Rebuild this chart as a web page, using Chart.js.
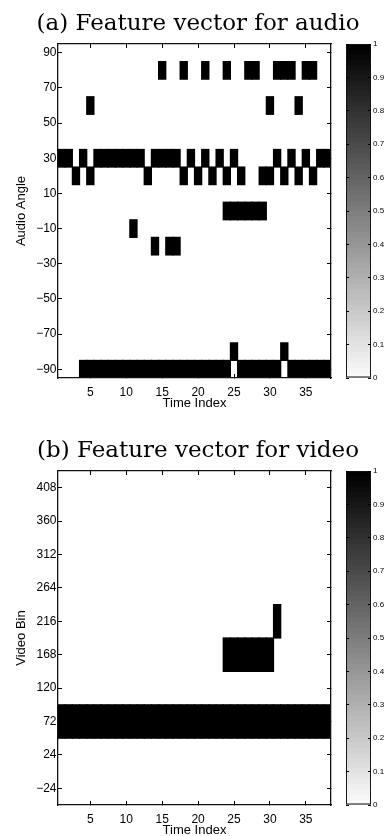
<!DOCTYPE html>
<html>
<head>
<meta charset="utf-8">
<script src="https://cdn.jsdelivr.net/npm/chart.js@4.4.0/dist/chart.umd.min.js"></script>
<style>
  html, body { margin: 0; padding: 0; background: #fff; overflow: hidden; }
  body { width: 390px; height: 836px; position: relative; }
  canvas { position: absolute; }
</style>
</head>
<body>
<canvas id="audioChart" width="390" height="420" style="left:0;top:0"></canvas>
<canvas id="audioBar" width="54" height="420" style="left:336px;top:0"></canvas>
<canvas id="videoChart" width="390" height="420" style="left:0;top:427px"></canvas>
<canvas id="videoBar" width="54" height="420" style="left:336px;top:427px"></canvas>
<script>
// ---- tick labels ----
const timeTicks = [5, 10, 15, 20, 25, 30, 35];
const audioTicks = [-90, -70, -50, -30, -10, 10, 30, 50, 70, 90];
const videoTicks = [-24, 24, 72, 120, 168, 216, 264, 312, 360, 408];
const levelTicks = [0, 0.1, 0.2, 0.3, 0.4, 0.5, 0.6, 0.7, 0.8, 0.9, 1];

// ---- audio feature: angle bins (10 deg) and the time indices that are 1 ----
const audioAngles = [80, 60, 30, 20, 0, -10, -20, -80, -90];
const audio80 = [15, 18, 21, 24, 27, 28, 31, 32, 33, 35, 36];
const audio60 = [5, 30, 34];
const audio30 = [1, 2, 4, 6, 7, 8, 9, 10, 11, 12, 14, 15, 16, 17, 19, 21, 23, 25, 31, 33, 35, 37, 38];
const audio20 = [3, 5, 13, 18, 20, 22, 24, 26, 29, 30, 32, 34, 36];
const audio0 = [24, 25, 26, 27, 28, 29];
const audioM10 = [11];
const audioM20 = [14, 16, 17];
const audioM80 = [25, 32];
const audioM90 = [4, 5, 6, 7, 8, 9, 10, 11, 12, 13, 14, 15, 16, 17, 18, 19, 20, 21, 22, 23, 24,
                  26, 27, 28, 29, 30, 31, 33, 34, 35, 36, 37, 38];
const audioBin = 10;

// ---- video feature: bins of 48 ----
const videoBins = [216, 168, 72];
const video216 = [31];
const video168 = [24, 25, 26, 27, 28, 29, 30];
const video72 = [1, 2, 3, 4, 5, 6, 7, 8, 9, 10, 11, 12, 13, 14, 15, 16, 17, 18, 19,
                 20, 21, 22, 23, 24, 25, 26, 27, 28, 29, 30, 31, 32, 33, 34, 35, 36, 37, 38];
const videoBin = 48;

Chart.defaults.font.family = "'Liberation Sans', Arial, sans-serif";
Chart.defaults.color = '#000';

const minus = v => (v < 0 ? '\u2212' + Math.abs(v) : String(v));
const fixTicks = vals => axis => { axis.ticks = vals.map(v => ({ value: v })); };

// matlab-style box: inward tick marks on every side, drawn over the image
const edge = { display: true, color: '#111', width: 1.3, z: 1 };
const marks = len => ({ drawOnChartArea: false, drawTicks: true, tickLength: len, color: '#000', lineWidth: 1, offset: false, z: 1 });

function heatmap(id, title, rows, cells, bin, yMin, yMax, yTicks, yTitle) {
  const datasets = rows.map((r, i) => ({
    data: cells[i].map(t => ({ x: t, y: [r - bin / 2, r + bin / 2] })),
    backgroundColor: '#000',
    borderWidth: 0,
    inflateAmount: 0.6,   // no hairline seams between neighbouring cells
    barPercentage: 1,
    categoryPercentage: 1,
    grouped: false
  }));

  new Chart(document.getElementById(id), {
    type: 'bar',
    data: { datasets },
    options: {
      responsive: false,
      animation: false,
      // side padding only centres the title over the figure
      layout: { padding: { left: 36, right: 30, top: 0, bottom: 0 } },
      plugins: {
        legend: { display: false },
        tooltip: { enabled: false },
        title: {
          display: true,
          text: title,
          color: '#000',
          font: { family: "'DejaVu Serif', serif", size: 23, weight: 'normal', lineHeight: 1.2 },
          padding: { top: 10, bottom: 6.4 }
        }
      },
      scales: {
        x: {
          type: 'linear', position: 'bottom', min: 0.5, max: 38.5, offset: false,
          grid: marks(-4), border: edge,
          afterBuildTicks: fixTicks(timeTicks),
          ticks: { padding: 11.3, autoSkip: false, maxRotation: 0, font: { size: 12 } },
          title: { display: true, text: 'Time Index', font: { size: 13 }, padding: { top: 0, bottom: 9 } },
          afterFit: s => { s.height = 42; }
        },
        xTop: {
          type: 'linear', position: 'top', min: 0.5, max: 38.5, offset: false,
          grid: marks(-4), border: edge,
          afterBuildTicks: fixTicks(timeTicks),
          ticks: { display: false },
          afterFit: s => { s.height = 0; }
        },
        y: {
          type: 'linear', position: 'left', min: yMin, max: yMax,
          grid: marks(-4), border: edge,
          afterBuildTicks: fixTicks(yTicks),
          ticks: { padding: 5.5, autoSkip: false, font: { size: 12 }, callback: v => minus(v) },
          title: { display: true, text: yTitle, font: { size: 13 }, padding: { top: -22.8, bottom: 0 } },
          afterFit: s => { s.width = 22; }
        },
        yRight: {
          type: 'linear', position: 'right', min: yMin, max: yMax,
          grid: marks(-4), border: edge,
          afterBuildTicks: fixTicks(yTicks),
          ticks: { display: false },
          afterFit: s => { s.width = 29; }
        }
      }
    }
  });
}

// reversed gray colormap, 64 levels like the matlab colorbar
function grayRamp(context) {
  const chart = context.chart;
  const area = chart.chartArea;
  if (!area) return '#888';
  const g = chart.ctx.createLinearGradient(0, area.bottom, 0, area.top);
  const levels = 64;
  for (let i = 0; i < levels; i++) {
    const v = Math.round(250 * (1 - i / (levels - 1)));
    const c = 'rgb(' + v + ',' + v + ',' + v + ')';
    g.addColorStop(i / levels, c);
    g.addColorStop((i + 1) / levels, c);
  }
  return g;
}

function colorbar(id) {
  new Chart(document.getElementById(id), {
    type: 'bar',
    data: {
      labels: [''],
      datasets: [{
        data: [[0, 1]],
        backgroundColor: grayRamp,
        borderColor: '#111',
        borderWidth: 1.3,
        borderSkipped: false,
        barPercentage: 1,
        categoryPercentage: 1
      }]
    },
    options: {
      responsive: false,
      animation: false,
      layout: { padding: { left: 10, right: 0, top: 44, bottom: 42 } },
      plugins: { legend: { display: false }, tooltip: { enabled: false } },
      scales: {
        x: { display: false },
        y: {
          type: 'linear', position: 'right', min: 0, max: 1,
          grid: marks(-3), border: { display: false },
          afterBuildTicks: fixTicks(levelTicks),
          ticks: { padding: 5, autoSkip: false, font: { size: 8 }, callback: v => String(v) },
          afterFit: s => { s.width = 19; }
        },
        yLeft: {
          type: 'linear', position: 'left', min: 0, max: 1,
          grid: marks(-3), border: { display: false },
          afterBuildTicks: fixTicks(levelTicks),
          ticks: { display: false },
          afterFit: s => { s.width = 0; }
        }
      }
    }
  });
}

heatmap('audioChart', '(a) Feature vector for audio', audioAngles,
  [audio80, audio60, audio30, audio20, audio0, audioM10, audioM20, audioM80, audioM90],
  audioBin, -95, 95, audioTicks, 'Audio Angle');
colorbar('audioBar');

heatmap('videoChart', '(b) Feature vector for video', videoBins,
  [video216, video168, video72],
  videoBin, -48, 432, videoTicks, 'Video Bin');
colorbar('videoBar');
</script>
</body>
</html>
